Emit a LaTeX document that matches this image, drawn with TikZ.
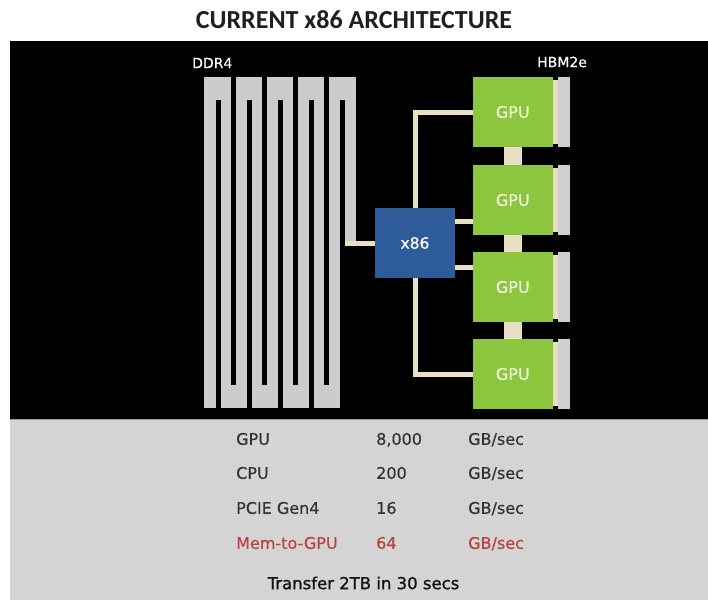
\documentclass[tikz,border=0pt]{standalone}
\usepackage{fontspec}
\setmainfont{DejaVu Sans}
\newfontfamily\titlefont{Carlito}
\newfontfamily\boldish{DejaVu Sans}[FakeBold=1.2]
\newfontfamily\semish{DejaVu Sans}[FakeBold=0.4]
\definecolor{panelgray}{HTML}{D4D4D4}
\definecolor{ddrgray}{HTML}{CCCCCC}
\definecolor{linkcream}{HTML}{E9DFC3}
\definecolor{gpugreen}{HTML}{8CC63E}
\definecolor{cpublue}{HTML}{2E5C9A}
\definecolor{hbmgray}{HTML}{CFCFCF}
\definecolor{gputext}{HTML}{F2F2DC}
\definecolor{tabtext}{HTML}{333333}
\definecolor{tabred}{HTML}{B8423C}
\tikzset{
  gpubox/.style={rectangle, fill=gpugreen, inner sep=0pt, minimum width=79.5pt, minimum height=70pt,
    text=gputext, font=\semish\fontsize{16}{18}\selectfont},
  cpubox/.style={rectangle, fill=cpublue, inner sep=0pt, minimum width=80pt, minimum height=70pt,
    text=white, font=\semish\fontsize{15.5}{18}\selectfont},
  link/.style={draw=linkcream, line width=5pt},
  lbl/.style={text=white, font=\semish\fontsize{14}{16}\selectfont, inner sep=0pt},
  tab/.style={anchor=base west, inner sep=0pt, text=tabtext, font=\semish\fontsize{16}{18}\selectfont},
  tabr/.style={tab, text=tabred},
}
\begin{document}
\begin{tikzpicture}[x=1pt, y=-1pt]
\useasboundingbox (0,0) rectangle (708,606);
\fill[white] (0,0) rectangle (708,606);
\fill[black] (10,41) rectangle (708,419);
\fill[panelgray] (10,419) rectangle (708,600);
\draw[gray!80, line width=1pt] (10,419.5) -- (708,419.5);

% title
\node[inner sep=0pt, text=black!88, font=\titlefont\bfseries\fontsize{26}{28}\selectfont] (title) at (354,20) {CURRENT x86 ARCHITECTURE};

% DDR4 serpentine
\fill[ddrgray] (204,77) rectangle (356,408);
\foreach \x in {218.5,249.5,280.5,311.5,342.5}
  \fill[black] (\x-2.25,100) rectangle (\x+2.25,408.5);
\foreach \x in {233.5,264.5,295.5,326.5}
  \fill[black] (\x-2.25,76.5) rectangle (\x+2.25,385);
\fill[black] (344.75,245.5) rectangle (356.5,408.5);
\coordinate (ddrend) at (344.75,243);

\node[lbl, anchor=west] (ddrlbl) at (192,63) {DDR4};
\node[lbl, anchor=west] (hbmlbl) at (537,62) {HBM2e};

% GPUs
\node[gpubox] (g1) at (512.75,112) {GPU};
\node[gpubox] (g2) at (512.75,200) {GPU};
\node[gpubox] (g3) at (512.75,287) {GPU};
\node[gpubox] (g4) at (512.75,374) {GPU};

% HBM stacks
\foreach \g in {g1,g2,g3,g4}{
  \fill[linkcream] ([yshift=-3pt]\g.north east) rectangle ([xshift=5pt,yshift=3pt]\g.south east);
  \fill[hbmgray] ([xshift=5pt]\g.north east) rectangle ([xshift=17pt]\g.south east);
}

% NVLink squares
\fill[linkcream] ([xshift=-9pt]g1.south) rectangle ([xshift=9pt]g2.north);
\fill[linkcream] ([xshift=-9pt]g2.south) rectangle ([xshift=9pt]g3.north);
\fill[linkcream] ([xshift=-9pt]g3.south) rectangle ([xshift=9pt]g4.north);

% CPU
\node[cpubox] (x86) at (415,243) {x86};

% connectors
\draw[link] (x86.north) |- (g1.west);
\draw[link] ([yshift=21.5pt]x86.east) -- ([yshift=21.5pt]x86.east -| g2.west);
\draw[link] ([yshift=-24.5pt]x86.east) -- ([yshift=-24.5pt]x86.east -| g3.west);
\draw[link] (x86.south) |- (g4.west);
\draw[link] (ddrend) -- (x86.west);

% table
\node[tab] (r1a) at (236,444.8) {GPU};
\node[tab] (r1b) at (376,444.8) {8,000};
\node[tab] (r1c) at (468,444.8) {GB/sec};
\node[tab] (r2a) at (236,478.8) {CPU};
\node[tab] (r2b) at (376,478.8) {200};
\node[tab] (r2c) at (468,478.8) {GB/sec};
\node[tab] (r3a) at (236,513.8) {PCIE Gen4};
\node[tab] (r3b) at (376,513.8) {16};
\node[tab] (r3c) at (468,513.8) {GB/sec};
\node[tabr] (r4a) at (236,548.8) {Mem-to-GPU};
\node[tabr] (r4b) at (376,548.8) {64};
\node[tabr] (r4c) at (468,548.8) {GB/sec};
\node[inner sep=0pt, text=black!92, font=\boldish\fontsize{16.5}{18}\selectfont] (xfer) at (363.5,583) {Transfer 2TB in 30 secs};
\end{tikzpicture}
\end{document}
